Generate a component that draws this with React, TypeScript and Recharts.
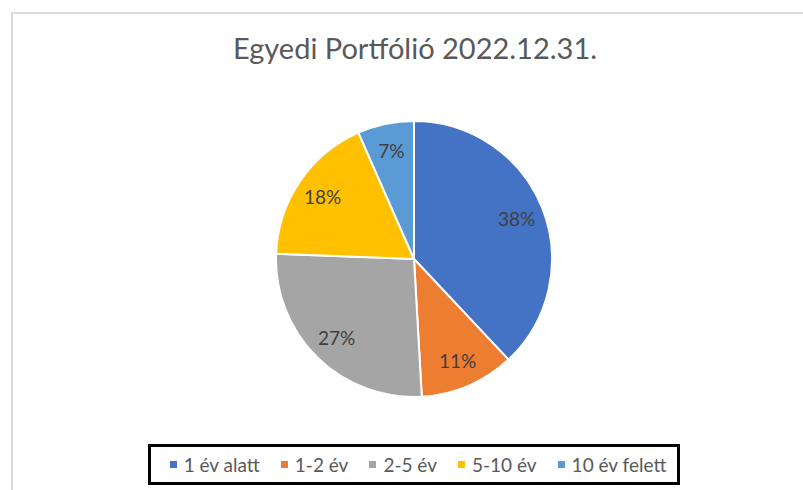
import { PieChart, Pie, Cell, Legend } from 'recharts';

const categories = ['1 év alatt', '1-2 év', '2-5 év', '5-10 év', '10 év felett'];
const shares = [38.0, 11.1, 26.5, 17.8, 6.6];
const colors = ['#4472C4', '#ED7D31', '#A5A5A5', '#FFC000', '#5B9BD5'];

const data = categories.map((name, i) => ({ name, value: shares[i] }));

const RAD = Math.PI / 180;
const FONT = 'Lato, "Open Sans", sans-serif';

function renderLabel(props: any) {
  const { cx, cy, midAngle, outerRadius, percent } = props;
  const r = outerRadius * 0.8;
  const x = cx + r * Math.cos(-midAngle * RAD);
  const y = cy + r * Math.sin(-midAngle * RAD);
  return (
    <text
      x={x}
      y={y}
      fill="#404040"
      fontSize={19}
      fontFamily={FONT}
      textAnchor="middle"
      dominantBaseline="central"
    >
      {`${Math.round(percent * 100)}%`}
    </text>
  );
}

function LegendBox() {
  return (
    <div
      style={{
        boxSizing: 'border-box',
        width: 532,
        height: 41,
        border: '3px solid #000',
        display: 'flex',
        alignItems: 'center',
        justifyContent: 'center',
        gap: 21,
        paddingLeft: 8,
        fontFamily: FONT,
        fontSize: 19,
        color: '#595959',
      }}
    >
      {categories.map((c, i) => (
        <div key={c} style={{ display: 'flex', alignItems: 'center', gap: 7 }}>
          <span style={{ width: 7, height: 7, background: colors[i], display: 'inline-block' }} />
          <span>{c}</span>
        </div>
      ))}
    </div>
  );
}

export default function App() {
  return (
    <div
      style={{
        position: 'absolute',
        left: 0,
        top: 0,
        width: 803,
        height: 490,
        overflow: 'hidden',
        background: '#fff',
      }}
    >
      <div
        style={{
          position: 'absolute',
          left: 11,
          top: 12,
          width: 820,
          height: 500,
          border: '2px solid #d9d9d9',
        }}
      />
      <div
        style={{
          position: 'absolute',
          left: 0,
          width: 830,
          top: 28,
          textAlign: 'center',
          fontFamily: FONT,
          fontSize: 29,
          color: '#595959',
          lineHeight: '40px',
        }}
      >
        Egyedi Portfólió 2022.12.31.
      </div>
      <div style={{ position: 'absolute', left: 0, top: 0 }}>
        <PieChart width={803} height={490} margin={{ top: 0, right: 0, bottom: 0, left: 0 }}>
          <Pie
            data={data}
            dataKey="value"
            nameKey="name"
            cx={414}
            cy={259}
            outerRadius={138}
            startAngle={90}
            endAngle={-270}
            stroke="#ffffff"
            strokeWidth={2}
            label={renderLabel}
            labelLine={false}
            isAnimationActive={false}
          >
            {data.map((d, i) => (
              <Cell key={d.name} fill={colors[i]} />
            ))}
          </Pie>
          <Legend
            content={<LegendBox />}
            wrapperStyle={{ position: 'absolute', left: 148, top: 444, width: 532, bottom: 'auto' }}
          />
        </PieChart>
      </div>
    </div>
  );
}
